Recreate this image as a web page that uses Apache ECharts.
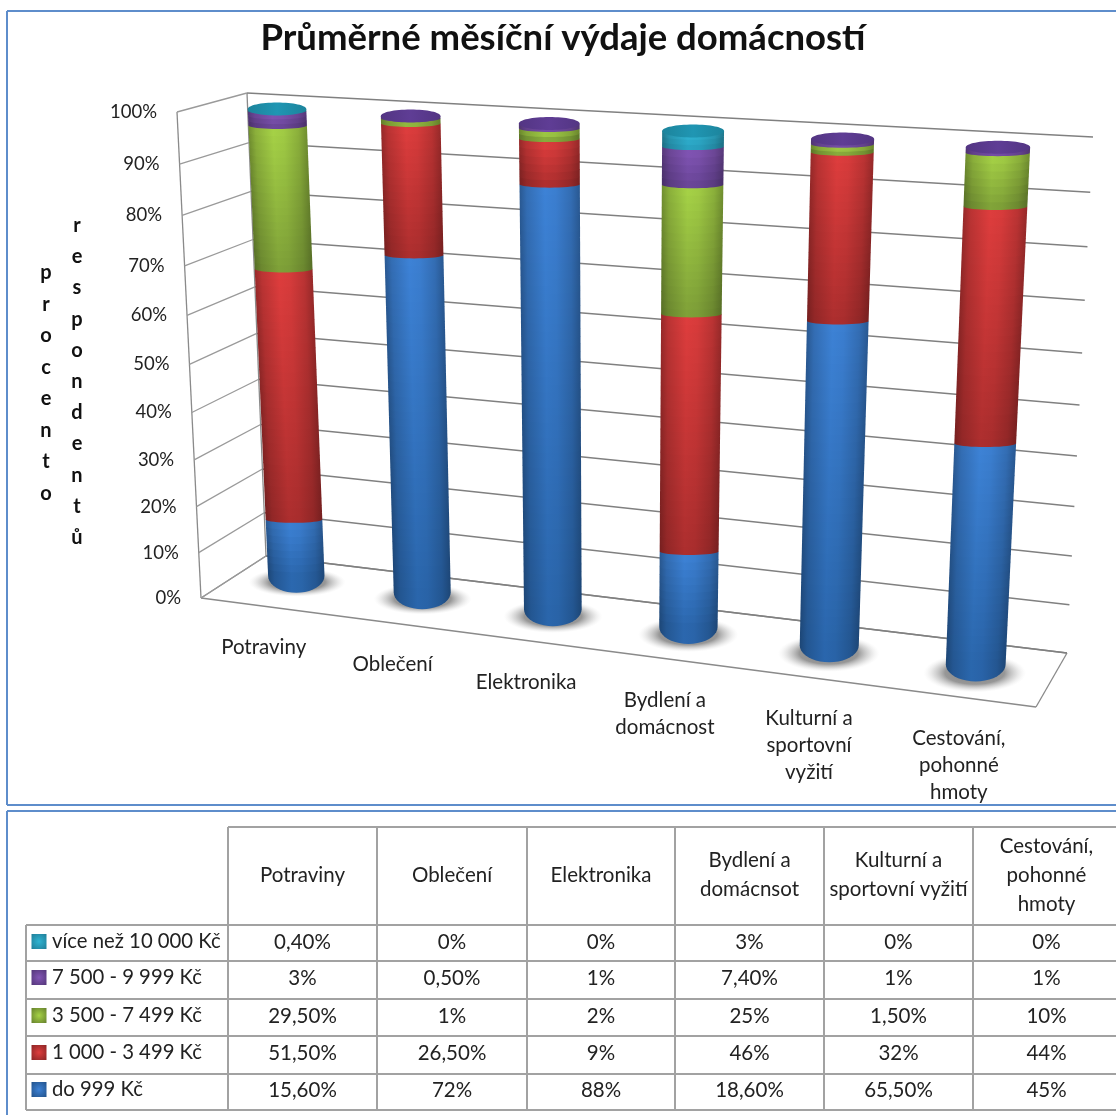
<!DOCTYPE html>
<html><head><meta charset="utf-8">
<style>html,body{margin:0;padding:0;background:#fff}#c{width:1116px;height:1115px}</style>
<script src="https://cdn.jsdelivr.net/npm/echarts@6/dist/echarts.min.js"></script>
</head><body><div id="c"></div>
<script>
// ---- data ----
const titleText = 'Průměrné měsíční výdaje domácností';
const axisTitleA = 'procento';
const axisTitleB = 'respondentů';
const categories = ['Potraviny','Oblečení','Elektronika','Bydlení a\ndomácnost','Kulturní a\nsportovní\nvyžití','Cestování,\npohonné\nhmoty'];
const tableHeaders = ['Potraviny','Oblečení','Elektronika','Bydlení a\ndomácnsot','Kulturní a\nsportovní vyžití','Cestování,\npohonné\nhmoty'];
const tickValues = [0,10,20,30,40,50,60,70,80,90,100];
const do999   = [15.6,72,88,18.6,65.5,45];
const do3499  = [51.5,26.5,9,46,32,44];
const do7499  = [29.5,1,2,25,1.5,10];
const do9999  = [3,0.5,1,7.4,1,1];
const nad10000 = [0.4,0,0,3,0,0];
const seriesNames = ['do 999 Kč','1 000 - 3 499 Kč','3 500 - 7 499 Kč','7 500 - 9 999 Kč','více než 10 000 Kč'];
const seriesValues = [do999,do3499,do7499,do9999,nad10000];

// ---- styles ----
const FONT = 'Lato';
const palette = [
 {hi:[61,130,214], lo:[42,102,172], cap:[40,100,170]},
 {hi:[222,61,61],  lo:[172,46,46],  cap:[170,45,45]},
 {hi:[166,210,70], lo:[126,160,56], cap:[120,150,50]},
 {hi:[130,85,181], lo:[104,68,150], cap:[90,58,142]},
 {hi:[48,180,210], lo:[40,158,190], cap:[30,143,170]}
];
const lerp=(a,b,t)=>a+(b-a)*t;
const warp=(u,k)=>u/(u+k*(1-u));
const rgb=(c,f)=>'rgb('+c.map(x=>Math.round(x*f)).join(',')+')';

// ---- projection of the flat cartesian onto the tilted box ----
const plane={bl:[236,587],br:[1050,696],tl:[212,105.5],tr:[1078,151.5]};
const box={fbl:[201,598],ftl:[177,112],bbl:[266,556],btl:[247,93],bbr:[1067,653],btr:[1093,137],fbr:[1036,707]};
const K_BAR=1.12,K_FRONT=1.12,M_WALL=1.08;
function norm(api,params,cat,val){
  const p=api.coord([cat,val]);const c=params.coordSys;
  return [(p[0]-c.x)/c.width,(c.y+c.height-p[1])/c.height];
}
function barPoint(u,v){
  const t=warp(u,K_BAR);
  const bx=lerp(plane.bl[0],plane.br[0],t),by=lerp(plane.bl[1],plane.br[1],t);
  const tx=lerp(plane.tl[0],plane.tr[0],t),ty=lerp(plane.tl[1],plane.tr[1],t);
  return {x:lerp(bx,tx,v),y:lerp(by,ty,v),r:lerp(lerp(28,30,t),lerp(29,32.5,t),v)};
}
function wall(a,b,v){const V=warp(v,M_WALL);return [lerp(a[0],b[0],V),lerp(a[1],b[1],V)];}

function sliceFill(col,s){
  const m=[0,1,2].map(i=>lerp(col.lo[i],col.hi[i],s));
  return new echarts.graphic.LinearGradient(0,0,1,0,[
    {offset:0,color:rgb(m,.68)},{offset:.12,color:rgb(m,.84)},{offset:.42,color:rgb(m,1)},
    {offset:.6,color:rgb(m,.97)},{offset:.85,color:rgb(m,.84)},{offset:1,color:rgb(m,.68)}]);
}
function arcPts(cx,cy,r,ry){ // front arc right -> left
  const pts=[];for(let i=0;i<=20;i++){const a=Math.PI*i/20;pts.push([cx+r*Math.cos(a),cy+ry*Math.sin(a)]);}
  return pts;
}
const BOTTOM_LIFT=0.04,RY_BOTTOM=17,RY_JOIN=3.5,RY_CAP=6.5;

function renderSegment(sIdx){
  return function(params,api){
    const cat=api.value(0),start=api.value(1),end=api.value(2);
    if(end-start<=0) return null;
    const u=norm(api,params,cat,0)[0];
    const v0=norm(api,params,cat,start)[1],v1=norm(api,params,cat,end)[1];
    const lift=sIdx===0?Math.max(v0,BOTTOM_LIFT):v0;
    const n=Math.max(1,Math.ceil((v1-lift)/0.015));
    const kids=[];
    for(let j=0;j<n;j++){
      const va=lerp(lift,v1,j/n),vb=lerp(lift,v1,(j+1)/n);
      const a=barPoint(u,va),b=barPoint(u,vb);
      const ry=(sIdx===0&&j===0)?RY_BOTTOM:RY_JOIN;
      const pts=[[b.x+b.r,b.y],...arcPts(a.x,a.y,a.r,ry),[b.x-b.r,b.y]];
      kids.push({type:'polygon',shape:{points:pts},style:{fill:sliceFill(palette[sIdx],(j+.5)/n)}});
    }
    if(end>=99.99){
      const c=barPoint(u,1);
      kids.push({type:'ellipse',shape:{cx:c.x,cy:c.y,rx:c.r,ry:RY_CAP},style:{
        fill:new echarts.graphic.LinearGradient(0,0,1,0,[
         {offset:0,color:rgb(palette[sIdx].cap,.92)},{offset:.5,color:rgb(palette[sIdx].cap,1.05)},{offset:1,color:rgb(palette[sIdx].cap,.92)}])}});
    }
    return {type:'group',children:kids};
  };
}
function renderShadow(params,api){
  const u=norm(api,params,api.value(0),0)[0];
  const b=barPoint(u,0);
  const rx=b.r*1.72,ry=14+u*6;
  return {type:'circle',x:b.x,y:b.y-13,scaleY:ry/rx,shape:{cx:0,cy:0,r:rx},style:{
    fill:new echarts.graphic.RadialGradient(.5,.5,.5,[
      {offset:0,color:'rgba(110,110,110,.9)'},{offset:.58,color:'rgba(125,125,125,.8)'},{offset:.8,color:'rgba(170,170,170,.4)'},{offset:1,color:'rgba(220,220,220,0)'}])}};
}
function renderGrid(params,api){
  const v=norm(api,params,0,api.value(1))[1];
  const a=wall(box.fbl,box.ftl,v),b=wall(box.bbl,box.btl,v),c=wall(box.bbr,box.btr,v);
  return {type:'group',children:[
    {type:'polyline',shape:{points:[a,b]},style:{stroke:'#9a9a9a',lineWidth:1.3,fill:null}},
    {type:'polyline',shape:{points:[b,c]},style:{stroke:'#808080',lineWidth:1.5,fill:null}},
    {type:'text',x:a[0]-20,y:a[1],style:{text:api.value(1)+'%',align:'right',verticalAlign:'middle',font:'18.5px '+FONT,fill:'#222'}}
  ]};
}
function renderCatLabel(params,api){
  const cat=api.value(0);
  const u=norm(api,params,cat,0)[0];
  const t=warp(u,K_FRONT);
  return {type:'text',x:lerp(box.fbl[0],box.fbr[0],t),y:lerp(box.fbl[1],box.fbr[1],t)+28,
    style:{text:categories[cat],align:'center',verticalAlign:'top',font:'20.5px '+FONT,lineHeight:27,fill:'#222'}};
}

// ---- static frame: panels, walls, table ----
const g=[];
const line=(x1,y1,x2,y2,color,w)=>g.push({type:'line',shape:{x1,y1,x2,y2},style:{stroke:color,lineWidth:w},z:1});
const BLUE='#5e8dcb';
line(7,11,1116,11,BLUE,2);line(7,11,7,805,BLUE,2);line(7,805,1116,805,BLUE,2);
line(7,811,1116,811,BLUE,2);line(7,811,7,1115,BLUE,2);
// box edges
[[box.ftl,box.fbl],[box.btl,box.bbl],[box.fbl,box.bbl],[box.bbl,box.bbr],[box.fbl,box.fbr],[box.bbr,box.fbr]].forEach(p=>
  line(p[0][0],p[0][1],p[1][0],p[1][1],'#8a8a8a',1.3));
// vertical axis titles
const vert=s=>s.split('').join('\n');
g.push({type:'text',x:46,y:257,style:{text:vert(axisTitleA),align:'center',verticalAlign:'top',font:'bold 20px '+FONT,lineHeight:31.5,fill:'#111'},z:2});
g.push({type:'text',x:77,y:210,style:{text:vert(axisTitleB),align:'center',verticalAlign:'top',font:'bold 20px '+FONT,lineHeight:31.2,fill:'#111'},z:2});
// table
const colX=[228,377,527,675,824,973,1116];
const rowY=[925,961,999,1036,1074,1110];
const rowCenters=[942,978,1016,1053,1090];
const GRID='#a2a2a2';
line(228,827,1116,827,GRID,2);
colX.slice(0,6).forEach(x=>line(x,827,x,1110,GRID,2));
rowY.forEach(y=>line(26,y,1116,y,GRID,2));
line(26,925,26,1110,GRID,2);
const fmt=v=>Number.isInteger(v)?v+'%':v.toFixed(2).replace('.',',')+'%';
tableHeaders.forEach((h,i)=>{
  g.push({type:'text',x:(colX[i]+colX[i+1])/2+(i===5?2:0),y:875,style:{text:h,align:'center',verticalAlign:'middle',font:'20.5px '+FONT,lineHeight:29,fill:'#222'},z:2});
});
for(let r=0;r<5;r++){
  const s=4-r;
  const col=palette[s];
  g.push({type:'rect',shape:{x:31.5,y:rowCenters[r]-8,width:15,height:15},z:2,style:{
    fill:new echarts.graphic.RadialGradient(.5,.5,.7,[{offset:0,color:rgb(col.hi,1)},{offset:1,color:rgb(col.lo,.8)}])}});
  g.push({type:'text',x:52,y:rowCenters[r]-1,style:{text:seriesNames[s],align:'left',verticalAlign:'middle',font:'20.3px '+FONT,fill:'#222'},z:2});
  seriesValues[s].forEach((v,i)=>{
    g.push({type:'text',x:(colX[i]+colX[i+1])/2+(i===5?2:0),y:rowCenters[r],style:{text:fmt(v),align:'center',verticalAlign:'middle',font:'20.5px '+FONT,fill:'#222'},z:2});
  });
}

// ---- series ----
const series=[];
series.push({type:'custom',renderItem:renderGrid,data:tickValues.map(v=>[0,v]),z:2,silent:true});
series.push({type:'custom',renderItem:renderShadow,data:categories.map((c,i)=>[i,0]),z:3,silent:true});
const cum=categories.map(()=>0);
seriesValues.forEach((vals,s)=>{
  const data=vals.map((v,i)=>{const a=cum[i];cum[i]+=v;return [i,a,cum[i]];});
  series.push({type:'custom',name:seriesNames[s],renderItem:renderSegment(s),data,z:4+s,silent:true,encode:{x:0,y:[1,2]}});
});
series.push({type:'custom',renderItem:renderCatLabel,data:categories.map((c,i)=>[i,0]),z:10,silent:true});

const chart=echarts.init(document.getElementById('c'),null,{renderer:'canvas'});
chart.setOption({
  animation:false,backgroundColor:'#fff',
  title:{text:titleText,left:558,top:15,textAlign:'center',textStyle:{fontFamily:FONT,fontWeight:'bold',fontSize:36.5,color:'#111'}},
  grid:{left:200,top:100,width:800,height:500},
  xAxis:{type:'category',data:categories,show:false},
  yAxis:{type:'value',min:0,max:100,interval:10,show:false},
  graphic:{elements:g},
  series
});
</script></body></html>
